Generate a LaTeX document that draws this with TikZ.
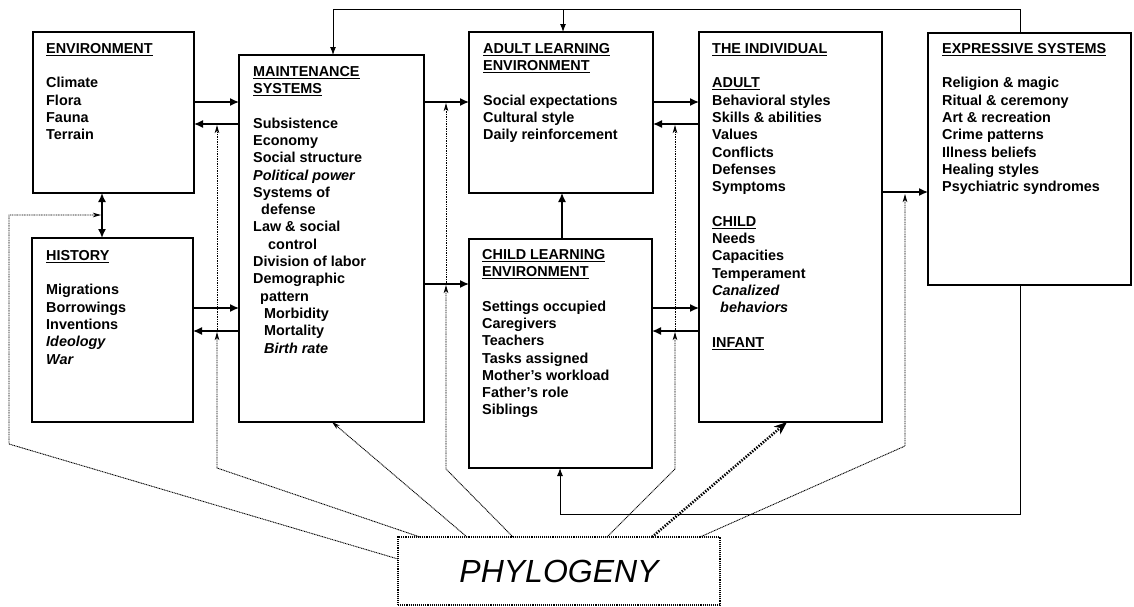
\documentclass[tikz,border=0pt]{standalone}
\usepackage{fontspec}
\setmainfont{Liberation Sans}
\usetikzlibrary{arrows.meta,calc}

% underline with a fixed bar below the baseline
\newcommand\ulbar[1]{\sbox0{#1}\rlap{\rule[-2.6pt]{\wd0}{1.2pt}}\usebox0}
% strut that fixes the height of a first line
\newcommand\topstrut{\rule{0pt}{13pt}}

\begin{document}
\begin{tikzpicture}[x=1pt,y=-1pt,
  box/.style={draw, line width=1.6pt, fill=white, inner sep=0pt, outer sep=0pt, anchor=north west},
  txt/.style={anchor=north west, inner sep=0pt, align=left,
              font=\fontsize{14.4}{17.3}\selectfont\bfseries},
  link/.style={line width=1.4pt, -{Latex[length=9pt,width=8pt]}},
  thinlink/.style={line width=1pt, -{Latex[length=8pt,width=6pt]}},
  dotlink/.style={line width=0.9pt, dash pattern=on 1pt off 0.7pt,
                  -{Stealth[length=8pt,width=4.5pt,inset=2.2pt]}},
  heavylink/.style={line width=2.6pt, dash pattern=on 1.4pt off 1.4pt,
                    -{Stealth[length=13pt,width=10pt,inset=4pt]}}
]
\useasboundingbox (0,0) rectangle (1134,606);

% ---------------- boxes ----------------
\node[box, minimum width=161pt, minimum height=161pt] (env)   at (33,32)  {};
\node[box, minimum width=161pt, minimum height=184pt] (hist)  at (32,238) {};
\node[box, minimum width=185pt, minimum height=367pt] (maint) at (239,55) {};
\node[box, minimum width=184pt, minimum height=161pt] (adult) at (469,32) {};
\node[box, minimum width=183pt, minimum height=229pt] (child) at (469,239) {};
\node[box, minimum width=183pt, minimum height=390pt] (indiv) at (699,32) {};
\node[box, minimum width=203pt, minimum height=252pt] (expr)  at (928,33) {};
\node[draw, line width=1.4pt, dash pattern=on 1.1pt off 1pt, fill=white,
      inner sep=0pt, outer sep=0pt, anchor=north west,
      minimum width=322pt, minimum height=68pt,
      font=\fontsize{32}{32}\selectfont\itshape] (phylo) at (398,537) {PHYLOGENY};

% ---------------- box texts ----------------
\node[txt] (envt) at ($(env.north west)+(13,8)$)
  {\topstrut\ulbar{ENVIRONMENT}\\[17.3pt]
   Climate\\ Flora\\ Fauna\\ Terrain};

\node[txt] (histt) at ($(hist.north west)+(14,9)$)
  {\topstrut\ulbar{HISTORY}\\[17.3pt]
   Migrations\\ Borrowings\\ Inventions\\ \textit{Ideology}\\ \textit{War}};

\node[txt] (maintt) at ($(maint.north west)+(14,8)$)
  {\topstrut\ulbar{MAINTENANCE}\\ \ulbar{SYSTEMS}\\[17.3pt]
   Subsistence\\ Economy\\ Social structure\\ \textit{Political power}\\
   Systems of\\ \hspace*{8pt}defense\\ Law \& social\\ \hspace*{15pt}control\\
   Division of labor\\ Demographic\\ \hspace*{7pt}pattern\\
   \hspace*{11pt}Morbidity\\ \hspace*{11pt}Mortality\\ \hspace*{11pt}\textit{Birth rate}};

\node[txt] (adultt) at ($(adult.north west)+(14,8)$)
  {\topstrut\ulbar{ADULT LEARNING}\\ \ulbar{ENVIRONMENT}\\[17.3pt]
   Social expectations\\ Cultural style\\ Daily reinforcement};

\node[txt] (childt) at ($(child.north west)+(13,7)$)
  {\topstrut\ulbar{CHILD LEARNING}\\ \ulbar{ENVIRONMENT}\\[17.3pt]
   Settings occupied\\ Caregivers\\ Teachers\\ Tasks assigned\\
   Mother's workload\\ Father's role\\ Siblings};

\node[txt] (indivt) at ($(indiv.north west)+(13,8)$)
  {\topstrut\ulbar{THE INDIVIDUAL}\\[17.3pt]
   \ulbar{ADULT}\\ Behavioral styles\\ Skills \& abilities\\ Values\\
   Conflicts\\ Defenses\\ Symptoms\\[17.3pt]
   \ulbar{CHILD}\\ Needs\\ Capacities\\ Temperament\\ \textit{Canalized}\\
   \hspace*{8pt}\textit{behaviors}\\[17.3pt]
   \ulbar{INFANT}};

\node[txt] (exprt) at ($(expr.north west)+(14,7)$)
  {\topstrut\ulbar{EXPRESSIVE SYSTEMS}\\[17.3pt]
   Religion \& magic\\ Ritual \& ceremony\\ Art \& recreation\\
   Crime patterns\\ Illness beliefs\\ Healing styles\\ Psychiatric syndromes};

% ---------------- solid connectors between neighbouring boxes ----------------
\draw[link] (env.east |- 0,102) -- (maint.west |- 0,102);
\draw[link] (maint.west |- 0,124) -- (env.east |- 0,124);
\draw[link] (hist.east |- 0,308) -- (maint.west |- 0,308);
\draw[link] (maint.west |- 0,331) -- (hist.east |- 0,331);
\draw[link] (maint.east |- 0,102) -- (adult.west |- 0,102);
\draw[link] (maint.east |- 0,284) -- (child.west |- 0,284);
\draw[link] (adult.east |- 0,102) -- (indiv.west |- 0,102);
\draw[link] (indiv.west |- 0,124) -- (adult.east |- 0,124);
\draw[link] (child.east |- 0,308) -- (indiv.west |- 0,308);
\draw[link] (indiv.west |- 0,331) -- (child.east |- 0,331);
\draw[link] (child.north -| 562,0) -- (adult.south -| 562,0);
\draw[link] (indiv.east |- 0,192) -- (expr.west |- 0,192);
\draw[line width=1.6pt, {Latex[length=9pt,width=8pt]}-{Latex[length=9pt,width=8pt]}]
  (env.south -| 102,0) -- (hist.north -| 102,0);

% ---------------- feedback loops from the expressive systems ----------------
\coordinate (topL) at (333,9);
\coordinate (topM) at (563,9);
\coordinate (topR) at (1020,9);
\draw[thinlink] (expr.north -| topR) -- (topR) -- (topL) -- (maint.north -| topL);
\draw[thinlink] (topM) -- (adult.north -| topM);

\coordinate (botR) at (1020,514);
\coordinate (botL) at (560,514);
\draw[thinlink] (expr.south -| botR) -- (botR) -- (botL) -- (child.south -| botL);

% ---------------- phylogeny influences ----------------
\coordinate (pa1) at (9,444);
\coordinate (pa2) at (9,215);
\coordinate (pa3) at (101,215);
\draw[dotlink] (phylo.west |- 0,559) -- (pa1) -- (pa2) -- (pa3);

\coordinate (pb1) at (217,468);
\coordinate (pb2) at (217,332);
\coordinate (pb3) at (217,125);
\draw[dotlink] (phylo.north -| 420,0) -- (pb1) -- (pb2);
\draw[dotlink] (pb2) -- (pb3);

\draw[dotlink] (phylo.north -| 467,0) -- (maint.south -| 332,0);

\coordinate (pc1) at (446,469);
\coordinate (pc2) at (446,285);
\coordinate (pc3) at (446,103);
\draw[dotlink] (phylo.north -| 513,0) -- (pc1) -- (pc2);
\draw[dotlink] (pc2) -- (pc3);

\coordinate (pd1) at (675,469);
\coordinate (pd2) at (675,332);
\coordinate (pd3) at (675,125);
\draw[dotlink] (phylo.north -| 607,0) -- (pd1) -- (pd2);
\draw[dotlink] (pd2) -- (pd3);

\draw[heavylink] (phylo.north -| 652,0) -- (indiv.south -| 787,0);

\coordinate (pe1) at (905,446);
\coordinate (pe2) at (905,194);
\draw[dotlink] (phylo.north -| 700,0) -- (pe1) -- (pe2);

\end{tikzpicture}
\end{document}
